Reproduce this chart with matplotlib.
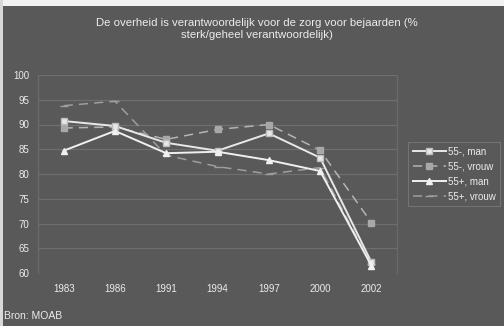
import matplotlib
matplotlib.use("Agg")
import matplotlib.pyplot as plt
from matplotlib.patches import Rectangle

years = ["1983", "1986", "1991", "1994", "1997", "2000", "2002"]
young_men = [90.7, 89.7, 86.3, 84.7, 88.2, 83.3, 62.2]
young_women = [89.3, 89.5, 87.0, 89.0, 90.0, 84.8, 70.2]
old_men = [84.7, 88.7, 84.2, 84.5, 82.8, 80.6, 61.5]
old_women = [93.8, 94.7, 83.8, 81.5, 80.0, 81.3, 61.8]

BG = "#595959"
TXT = "#ececec"

plt.rcParams["font.family"] = ["Liberation Sans", "DejaVu Sans"]


def main():
    fig = plt.figure(figsize=(5.04, 3.26), dpi=100)
    fig.patch.set_facecolor(BG)
    # light edge along the top and left of the panel
    fig.add_artist(Rectangle((0, 1 - 6 / 326), 1, 6 / 326, transform=fig.transFigure,
                             facecolor="#f2f2f2", edgecolor="none"))
    fig.add_artist(Rectangle((0, 0), 3 / 504, 1, transform=fig.transFigure,
                             facecolor="#d8d8d8", edgecolor="none"))

    ax = fig.add_axes([38 / 504, 53 / 326, 359 / 504, 198 / 326])
    ax.set_facecolor(BG)

    x = list(range(len(years)))
    ax.plot(x, young_men, color="#e8e8e8", lw=1.4, marker="s", ms=4.5,
            mfc="#e8e8e8", mec="#bdbdbd", label="55-, man", zorder=4)
    ax.plot(x, young_women, color="#b4b4b4", lw=1.1, ls=(0, (6, 4)), marker="s", ms=4.5,
            mfc="#a8a8a8", mec="#a8a8a8", label="55-, vrouw", zorder=3)
    ax.plot(x, old_men, color="#f0f0f0", lw=1.4, marker="^", ms=4.5,
            mfc="#f0f0f0", mec="#f0f0f0", label="55+, man", zorder=4)
    ax.plot(x, old_women, color="#9e9e9e", lw=1.1, ls=(0, (6, 4)), marker="_", ms=6,
            mec="#9e9e9e", label="55+, vrouw", zorder=3)

    ax.set_xlim(-0.5, len(years) - 0.5)
    ax.set_ylim(60, 100)
    ax.set_yticks(range(60, 101, 5))
    ax.set_xticks(x)
    ax.set_xticklabels(years)
    ax.tick_params(axis="both", length=0, colors=TXT, labelsize=7)
    ax.tick_params(axis="x", pad=8)
    ax.tick_params(axis="y", pad=6)
    ax.grid(axis="y", color="#6f6f6f", lw=0.9)
    ax.set_axisbelow(True)
    for side in ["top", "bottom"]:
        ax.spines[side].set_visible(False)
    for side in ["left", "right"]:
        ax.spines[side].set_color("#6a6a6a")
        ax.spines[side].set_linewidth(0.9)

    fig.text(0.51, 1 - 29 / 326,
             "De overheid is verantwoordelijk voor de zorg voor bejaarden (%\nsterk/geheel verantwoordelijk)",
             ha="center", va="center", color=TXT, fontsize=8.2, linespacing=1.3)

    leg = ax.legend(loc="upper left", bbox_to_anchor=(408 / 504, 1 - 142 / 326),
                    bbox_transform=fig.transFigure, frameon=True, fontsize=7,
                    handlelength=3.4, handletextpad=0.2, borderpad=0.5,
                    labelspacing=0.5, borderaxespad=0)
    leg.get_frame().set_facecolor(BG)
    leg.get_frame().set_edgecolor("#7a7a7a")
    leg.get_frame().set_linewidth(0.8)
    leg.get_frame().set_boxstyle("square", pad=0)
    for t in leg.get_texts():
        t.set_color(TXT)

    fig.text(4 / 504, 1 - 316 / 326, "Bron: MOAB", ha="left", va="center",
             color=TXT, fontsize=7.5)

    fig.savefig("out.png", dpi=100, facecolor=fig.get_facecolor())


if __name__ == "__main__":
    main()
